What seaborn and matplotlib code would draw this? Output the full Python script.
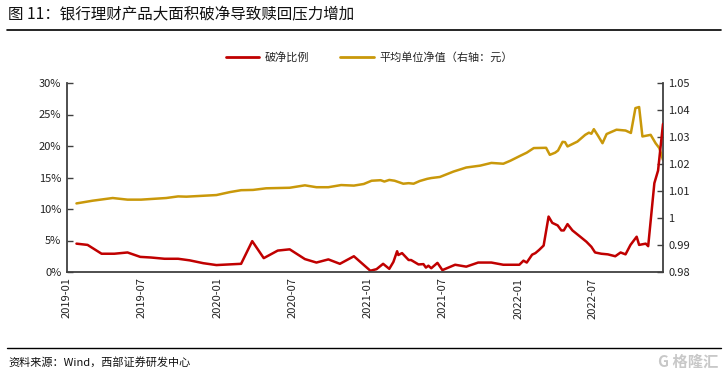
import matplotlib
matplotlib.use("Agg")
from matplotlib import pyplot as plt
import matplotlib.dates as mdates
from matplotlib.lines import Line2D
import pandas as pd
import seaborn as sns

# 破净比例 (%)
ratio_dates = ["2019-01-24", "2019-02-20", "2019-03-26", "2019-04-26", "2019-05-28", "2019-06-28",
               "2019-07-24", "2019-08-26", "2019-09-28", "2019-10-26", "2019-11-28", "2019-12-30",
               "2020-02-28", "2020-03-26", "2020-04-23", "2020-05-27", "2020-06-25", "2020-08-01",
               "2020-08-29", "2020-09-27", "2020-10-25", "2020-11-28", "2021-01-07", "2021-01-22",
               "2021-02-07", "2021-02-22", "2021-03-04", "2021-03-13", "2021-03-16", "2021-03-25",
               "2021-04-10", "2021-04-16", "2021-05-04", "2021-05-16", "2021-05-22", "2021-05-28",
               "2021-06-04", "2021-06-19", "2021-07-01", "2021-08-01", "2021-08-28", "2021-09-26",
               "2021-10-28", "2021-11-26", "2022-01-04", "2022-01-14", "2022-01-22", "2022-02-04",
               "2022-02-12", "2022-02-21", "2022-03-04", "2022-03-16", "2022-03-25", "2022-04-07",
               "2022-04-16", "2022-04-22", "2022-05-01", "2022-05-13", "2022-06-01", "2022-06-16",
               "2022-06-28", "2022-07-07", "2022-07-22", "2022-08-07", "2022-08-25", "2022-09-07",
               "2022-09-19", "2022-10-01", "2022-10-16", "2022-10-22", "2022-11-07", "2022-11-13",
               "2022-11-28", "2022-12-07", "2022-12-19"]
ratio_values = [4.5, 4.3, 2.9, 2.9, 3.1, 2.4,
                2.3, 2.1, 2.1, 1.85, 1.4, 1.1,
                1.3, 4.9, 2.2, 3.4, 3.6, 2.05,
                1.5, 2.0, 1.3, 2.5, 0.2, 0.45,
                1.3, 0.5, 1.6, 3.3, 2.7, 3.0,
                1.9, 1.9, 1.2, 1.25, 0.7, 1.0,
                0.6, 1.45, 0.3, 1.15, 0.85, 1.5,
                1.5, 1.15, 1.15, 1.8, 1.5, 2.75,
                3.0, 3.5, 4.2, 8.8, 7.8, 7.4,
                6.6, 6.6, 7.6, 6.6, 5.6, 4.8,
                4.0, 3.1, 2.9, 2.8, 2.5, 3.1,
                2.8, 4.3, 5.6, 4.3, 4.5, 4.1,
                14.1, 16.1, 23.5]

# 平均单位净值 (元)
nav_dates = ["2019-01-24", "2019-03-04", "2019-04-22", "2019-05-28", "2019-06-30", "2019-08-30",
             "2019-09-28", "2019-10-18", "2019-12-30", "2020-02-01", "2020-02-28", "2020-03-28",
             "2020-04-29", "2020-06-25", "2020-08-01", "2020-08-29", "2020-09-27", "2020-10-28",
             "2020-11-28", "2020-12-22", "2021-01-10", "2021-02-01", "2021-02-10", "2021-02-22",
             "2021-03-07", "2021-03-28", "2021-04-10", "2021-04-22", "2021-05-07", "2021-05-25",
             "2021-06-04", "2021-06-25", "2021-07-28", "2021-08-28", "2021-10-01", "2021-10-28",
             "2021-11-26", "2021-12-13", "2022-01-07", "2022-01-22", "2022-02-08", "2022-03-10",
             "2022-03-19", "2022-04-01", "2022-04-08", "2022-04-19", "2022-04-25", "2022-05-01",
             "2022-05-25", "2022-06-13", "2022-06-22", "2022-06-28", "2022-07-04", "2022-07-14",
             "2022-07-25", "2022-08-04", "2022-08-28", "2022-09-19", "2022-10-02", "2022-10-13",
             "2022-10-22", "2022-10-30", "2022-11-19", "2022-12-01", "2022-12-10", "2022-12-19"]
nav_values = [1.0054, 1.0064, 1.0074, 1.0068, 1.0068, 1.0074,
              1.0080, 1.0079, 1.0085, 1.0096, 1.0103, 1.0104,
              1.0110, 1.0112, 1.0121, 1.0114, 1.0114, 1.0122,
              1.0120, 1.0126, 1.0138, 1.0140, 1.0135, 1.0141,
              1.0138, 1.0127, 1.0129, 1.0127, 1.0137, 1.0145,
              1.0148, 1.0152, 1.0172, 1.0187, 1.0194, 1.0204,
              1.0201, 1.0212, 1.0231, 1.0242, 1.0259, 1.0260,
              1.0234, 1.0242, 1.0250, 1.0282, 1.0281, 1.0265,
              1.0283, 1.0308, 1.0316, 1.0312, 1.0329, 1.0305,
              1.0277, 1.0311, 1.0327, 1.0324, 1.0315, 1.0407,
              1.0411, 1.0302, 1.0308, 1.0277, 1.0259, 1.0215]

left_ticks = [0, 5, 10, 15, 20, 25, 30]
right_ticks = [0.98, 0.99, 1.00, 1.01, 1.02, 1.03, 1.04, 1.05]
right_labels = ["0.98", "0.99", "1", "1.01", "1.02", "1.03", "1.04", "1.05"]

title = "图 11：银行理财产品大面积破净导致赎回压力增加"
source = "资料来源：Wind，西部证券研发中心"
red = "#C00000"
gold = "#C9980A"

sns.set_style("white")
plt.rcParams["font.family"] = ["Noto Sans CJK SC", "DejaVu Sans"]

ratio = pd.DataFrame({"date": pd.to_datetime(ratio_dates), "value": ratio_values})
nav = pd.DataFrame({"date": pd.to_datetime(nav_dates), "value": nav_values})

fig = plt.figure(figsize=(7.27, 3.78), dpi=100)
ax = fig.add_axes([67 / 727, 1 - 272 / 378, (663 - 67) / 727, (272 - 83) / 378])
ax2 = ax.twinx()

sns.lineplot(data=ratio, x="date", y="value", ax=ax, color=red, linewidth=1.8)
sns.lineplot(data=nav, x="date", y="value", ax=ax2, color=gold, linewidth=1.8)
ax.set_zorder(ax2.get_zorder() + 1)
ax.patch.set_visible(False)

ax.set_xlim(pd.Timestamp("2019-01-01"), pd.Timestamp("2022-12-19"))
ax.set_ylim(0, 30)
ax2.set_ylim(0.98, 1.05)
ax.set_yticks(left_ticks)
ax.set_yticklabels([f"{t}%" for t in left_ticks])
ax2.set_yticks(right_ticks)
ax2.set_yticklabels(right_labels)
ax.set_xticks(pd.date_range("2019-01-01", "2022-07-01", freq="6MS"))
ax.xaxis.set_major_formatter(mdates.DateFormatter("%Y-%m"))
for lab in ax.get_xticklabels():
    lab.set_rotation(90)

for a in (ax, ax2):
    a.set_xlabel("")
    a.set_ylabel("")
    a.spines["top"].set_visible(False)
    for s in ("left", "right", "bottom"):
        a.spines[s].set_color("#404040")
        a.spines[s].set_linewidth(1.3)
    a.tick_params(direction="in", length=4, width=1.0, color="#404040",
                  labelsize=8, labelcolor="#222222", pad=4)
ax.spines["right"].set_visible(False)
ax2.spines["left"].set_visible(False)
ax2.spines["bottom"].set_visible(False)

handles = [Line2D([], [], color=red, linewidth=2), Line2D([], [], color=gold, linewidth=2)]
fig.legend(handles, ["破净比例", "平均单位净值（右轴：元）"], loc="center",
           bbox_to_anchor=(0.508, 1 - 57 / 378), ncol=2, frameon=False,
           fontsize=8, handlelength=3, columnspacing=2.8, handletextpad=0.5)

fig.text(8 / 727, 1 - 15 / 378, title, fontsize=11.2, va="center", ha="left", color="#111111")
fig.add_artist(Line2D([7 / 727, 721 / 727], [1 - 29.5 / 378] * 2, color="black", linewidth=1.2))
fig.add_artist(Line2D([7 / 727, 721 / 727], [1 - 347.5 / 378] * 2, color="black", linewidth=1.0))
fig.text(8 / 727, 1 - 362 / 378, source, fontsize=8, va="center", ha="left", color="#111111")
fig.text(718 / 727, 1 - 362 / 378, "G 格隆汇", fontsize=11, va="center", ha="right",
         color="#C8C8C8", fontweight="bold")

fig.savefig("out.png", dpi=100)
